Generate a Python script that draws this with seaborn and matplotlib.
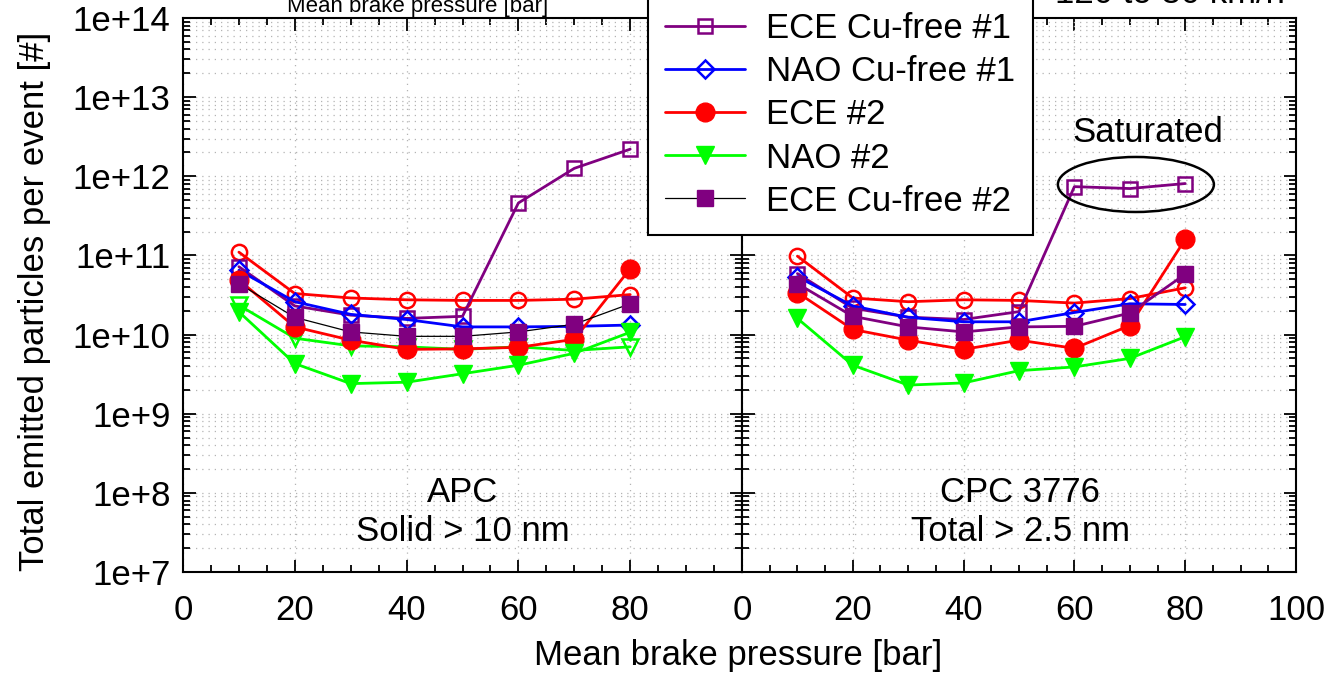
import numpy as np
import pandas as pd
import matplotlib
matplotlib.use("Agg")
import matplotlib.pyplot as plt
import seaborn as sns
from matplotlib.ticker import MultipleLocator, LogLocator, FuncFormatter, NullFormatter
from matplotlib.patches import Ellipse
from matplotlib.lines import Line2D

# ---------------- data ----------------
pressure = [10, 20, 30, 40, 50, 60, 70, 80]

series_names = ["ECE #1", "NAO #1", "ECE Cu-free #1", "NAO Cu-free #1",
                "ECE #2", "NAO #2", "ECE Cu-free #2"]

# APC, solid > 10 nm
apc_ece1 = [1.1e11, 3.3e10, 2.9e10, 2.75e10, 2.7e10, 2.7e10, 2.8e10, 3.2e10]
apc_nao1 = [2.35e10, 9.0e9, 7.2e9, 7.0e9, 6.5e9, 7.0e9, 6.3e9, 7.0e9]
apc_ece_cufree1 = [7.2e10, 2.3e10, 1.76e10, 1.6e10, 1.7e10, 4.6e11, 1.26e12, 2.2e12]
apc_nao_cufree1 = [6.5e10, 2.6e10, 1.8e10, 1.55e10, 1.25e10, 1.25e10, 1.27e10, 1.32e10]
apc_ece2 = [4.9e10, 1.25e10, 8.5e9, 6.5e9, 6.6e9, 6.9e9, 8.7e9, 6.8e10]
apc_nao2 = [1.94e10, 4.3e9, 2.4e9, 2.5e9, 3.2e9, 4.1e9, 5.8e9, 1.07e10]
apc_ece_cufree2 = [4.4e10, 1.65e10, 1.08e10, 9.5e9, 9.5e9, 1.08e10, 1.35e10, 2.45e10]

# CPC 3776, total > 2.5 nm
cpc_ece1 = [9.8e10, 2.9e10, 2.6e10, 2.75e10, 2.7e10, 2.5e10, 2.85e10, 3.9e10]
cpc_ece_cufree1 = [5.9e10, 2.15e10, 1.66e10, 1.55e10, 1.95e10, 7.4e11, 7.0e11, 8.1e11]
cpc_nao_cufree1 = [5.4e10, 2.3e10, 1.65e10, 1.45e10, 1.45e10, 1.9e10, 2.45e10, 2.4e10]
cpc_ece2 = [3.4e10, 1.16e10, 8.5e9, 6.5e9, 8.5e9, 6.7e9, 1.3e10, 1.6e11]
cpc_nao2 = [1.6e10, 4.1e9, 2.3e9, 2.45e9, 3.5e9, 3.9e9, 5.0e9, 9.4e9]
cpc_ece_cufree2 = [4.4e10, 1.7e10, 1.25e10, 1.08e10, 1.25e10, 1.27e10, 1.87e10, 5.8e10]

x_ticks = [0, 20, 40, 60, 80, 100]

# ---------------- style ----------------
sns.set_theme(style="ticks")
plt.rcParams["font.family"] = ["Liberation Sans", "DejaVu Sans"]
plt.rcParams["text.color"] = "black"
plt.rcParams["axes.labelcolor"] = "black"
plt.rcParams["xtick.color"] = "black"
plt.rcParams["ytick.color"] = "black"
plt.rcParams["axes.edgecolor"] = "black"

RED = "#ff0000"
GREEN = "#00ff00"
BLUE = "#0000ff"
PURPLE = "#800080"

styles = {
    "ECE #1": dict(color=RED, marker="o", markersize=11, markerfacecolor="none",
                   markeredgecolor=RED, markeredgewidth=1.8, linewidth=2.0),
    "NAO #1": dict(color=GREEN, marker="v", markersize=11, markerfacecolor="none",
                   markeredgecolor=GREEN, markeredgewidth=1.8, linewidth=2.0),
    "ECE Cu-free #1": dict(color=PURPLE, marker="s", markersize=9.5, markerfacecolor="none",
                           markeredgecolor=PURPLE, markeredgewidth=1.8, linewidth=2.0),
    "NAO Cu-free #1": dict(color=BLUE, marker="D", markersize=9, markerfacecolor="none",
                           markeredgecolor=BLUE, markeredgewidth=1.8, linewidth=2.0),
    "ECE #2": dict(color=RED, marker="o", markersize=13.5, markerfacecolor=RED,
                   markeredgecolor=RED, markeredgewidth=1.0, linewidth=2.0),
    "NAO #2": dict(color=GREEN, marker="v", markersize=13.5, markerfacecolor=GREEN,
                   markeredgecolor=GREEN, markeredgewidth=1.0, linewidth=2.0),
    "ECE Cu-free #2": dict(color="black", marker="s", markersize=11.5, markerfacecolor=PURPLE,
                           markeredgecolor=PURPLE, markeredgewidth=1.0, linewidth=0.9),
}

W, H = 1331, 676
fig = plt.figure(figsize=(W / 100, H / 100), dpi=100)
axL = fig.add_axes([183 / W, 1 - 572 / H, 559 / W, 554 / H])
axR = fig.add_axes([742 / W, 1 - 572 / H, 554 / W, 554 / H])

panels = {
    axL: {"ECE #1": apc_ece1, "NAO #1": apc_nao1, "ECE Cu-free #1": apc_ece_cufree1,
          "NAO Cu-free #1": apc_nao_cufree1, "ECE #2": apc_ece2, "NAO #2": apc_nao2,
          "ECE Cu-free #2": apc_ece_cufree2},
    axR: {"ECE #1": cpc_ece1, "ECE Cu-free #1": cpc_ece_cufree1,
          "NAO Cu-free #1": cpc_nao_cufree1, "ECE #2": cpc_ece2, "NAO #2": cpc_nao2,
          "ECE Cu-free #2": cpc_ece_cufree2},
}

for ax, data in panels.items():
    ax.set_yscale("log")
    for name in series_names:
        if name not in data:
            continue
        st = dict(styles[name])
        if ax is axR and name == "ECE Cu-free #2":
            st["color"] = PURPLE
            st["linewidth"] = 2.0
        df = pd.DataFrame({"p": pressure, "n": data[name]})
        sns.lineplot(data=df, x="p", y="n", ax=ax, errorbar=None, legend=False,
                     sort=False, **st)

    ax.set_xlim(0, 100)
    ax.set_ylim(1e7, 1e14)
    ax.set_xlabel("")
    ax.set_ylabel("")
    ax.set_xticks(x_ticks)
    ax.xaxis.set_minor_locator(MultipleLocator(5))
    ax.yaxis.set_major_locator(LogLocator(base=10, numticks=20))
    ax.yaxis.set_minor_locator(LogLocator(base=10, subs=np.arange(2, 10), numticks=20))
    ax.yaxis.set_minor_formatter(NullFormatter())
    ax.set_axisbelow(True)
    grid_kw = dict(linestyle=(0, (1, 4)), color="#b4b4b4", linewidth=0.9)
    ax.grid(which="major", axis="x", **grid_kw)
    ax.grid(which="both", axis="y", **grid_kw)
    ax.tick_params(which="both", direction="in", top=True, right=True,
                   width=1.3, color="black", labelcolor="black", labelsize=25)
    ax.tick_params(which="major", length=9)
    ax.tick_params(which="minor", length=5)
    ax.tick_params(axis="x", which="major", pad=16)
    ax.tick_params(axis="y", which="major", pad=9)
    for sp in ax.spines.values():
        sp.set_visible(True)
        sp.set_linewidth(1.5)
        sp.set_color("black")

axL.yaxis.set_major_formatter(FuncFormatter(lambda v, p: f"1e+{int(round(np.log10(v)))}"))
axL.xaxis.set_major_formatter(FuncFormatter(lambda v, p: "" if v >= 100 else f"{int(v)}"))
axR.tick_params(axis="y", labelleft=False)
axR.xaxis.set_major_formatter(FuncFormatter(lambda v, p: f"{int(v)}"))

# annotations
axL.text(0.5, 0.1426, "APC", transform=axL.transAxes, ha="center", va="center", fontsize=25)
axL.text(0.5, 0.0740, "Solid > 10 nm", transform=axL.transAxes, ha="center", va="center", fontsize=25)
axR.text(0.502, 0.1426, "CPC 3776", transform=axR.transAxes, ha="center", va="center", fontsize=25)
axR.text(0.502, 0.0740, "Total > 2.5 nm", transform=axR.transAxes, ha="center", va="center", fontsize=25)
axR.text(0.733, 0.794, "Saturated", transform=axR.transAxes, ha="center", va="center", fontsize=25)
axR.add_patch(Ellipse((0.711, 0.6995), 0.2816, 0.0993, transform=axR.transAxes,
                      fill=False, edgecolor="black", linewidth=1.8, zorder=5))

# axis labels
fig.text(738 / W, 1 - 655 / H, "Mean brake pressure [bar]", ha="center", va="center", fontsize=25)
fig.text(35 / W, 1 - 301 / H, "Total emitted particles per event [#]", rotation=90,
         ha="center", va="center", fontsize=25)

# texts of the panel above, cropped at the top edge as in the source image
fig.text(418 / W, 1 - 12 / H, "Mean brake pressure [bar]", ha="center", va="baseline", fontsize=16)
fig.text(1170 / W, 1 - 3 / H, "120 to 80 km/h", ha="center", va="baseline", fontsize=25)

# legend
handles = []
for name in series_names:
    st = styles[name]
    handles.append(Line2D([0], [0], **st))
leg = fig.legend(handles, series_names, loc="lower left",
                 bbox_to_anchor=(648 / W, 1 - 235 / H), bbox_transform=fig.transFigure,
                 borderaxespad=0, frameon=True, fancybox=False, framealpha=1,
                 edgecolor="black", facecolor="white", fontsize=25, handlelength=2.3,
                 handletextpad=0.6, labelspacing=0.29, borderpad=0.5, numpoints=1)
leg.get_frame().set_linewidth(1.5)
for t in leg.get_texts():
    t.set_color("black")

fig.savefig("out.png", dpi=100)
